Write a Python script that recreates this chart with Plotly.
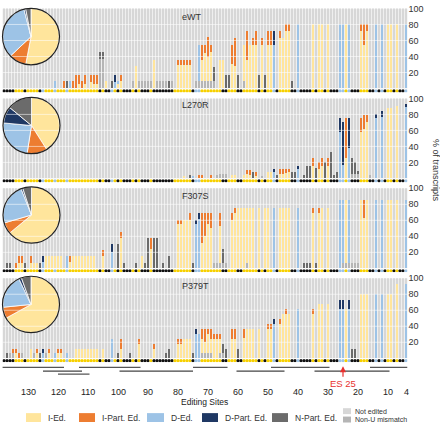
import plotly.graph_objects as go

W, H = 440, 423
def px(x): return x / W
def py(y): return 1 - y / H

FONT = "Liberation Sans, Arial, sans-serif"

# ---------------- data ----------------
sites = list(range(138, 3, -1))          # editing sites 138 .. 4
panels = ["eWT", "L270R", "F307S", "P379T"]
tick_sites = [130, 120, 110, 100, 90, 80, 70, 60, 50, 40, 30, 20, 10, 4]

# site type dots (K = not edited, Y = insertion, B = deletion), sites 138 -> 4
dot_types = ("K" "KKKYYYKYYY" "YKBYYYBYYY" "BYYYYYYYYY" "YKYKKBYKYK" "KKYKYKKKYK"
             "KKKKKKYYYY" "YYKBBYYYYY" "YYKKYYYKKY" "YYYYKYKYYB" "KYYYYKKBKK"
             "KKYKYYKYKK" "KBBYBKKKYY" "YKKBKBKYYK" "YKKB")

# eWT
eWT_I = {113: 5, 111: 5, 109: 8, 108: 6, 107: 5, 104: 9, 100: 5, 99: 9, 94: 28, 88: 36,
         80: 29, 79: 29, 78: 29, 77: 29, 76: 29, 72: 27, 71: 35, 70: 30, 69: 37, 66: 36, 65: 36,
         62: 30, 61: 28, 58: 45, 57: 36, 56: 54, 55: 54, 54: 54, 52: 54, 50: 54, 49: 54, 46: 63,
         45: 63, 44: 72, 43: 72, 35: 81, 33: 81, 32: 81, 30: 81, 24: 81, 19: 72, 18: 54, 17: 72,
         10: 81, 9: 81, 7: 81}
eWT_Ip = {118: 9, 115: 9, 114: 17, 113: 12, 112: 9, 111: 12, 109: 9, 108: 11, 107: 12, 99: 8,
          80: 7, 79: 7, 78: 7, 77: 7, 76: 7, 72: 18, 71: 10, 70: 25, 69: 8, 62: 24, 61: 35,
          57: 36, 55: 9, 54: 18, 52: 9, 50: 18, 49: 18, 46: 9, 44: 9, 43: 9, 19: 9, 18: 27, 17: 9}
eWT_D = {121: 9, 116: 9, 101: 8, 100: 4, 73: 45, 48: 54, 40: 81, 26: 81, 25: 81, 23: 81,
         14: 81, 12: 81, 4: 81}
eWT_Dp = {101: 9, 48: 18}
eWT_Np = {117: 9, 106: 8, 105: 8, 102: 9, 83: 9, 68: 18, 64: 17, 63: 17, 60: 17, 53: 17, 51: 17, 42: 9}
eWT_NU = {106: 37, 105: 37, 95: 9, 93: 9, 92: 9, 91: 9, 90: 9, 89: 9, 87: 9, 86: 9, 85: 9, 84: 9,
          82: 9, 74: 9, 73: 9, 72: 9, 71: 9, 70: 9, 69: 9, 68: 9, 58: 9}

# L270R
L270R_I = {78: 3, 62: 4, 61: 4, 58: 4, 57: 5, 56: 4, 54: 3, 50: 8, 49: 8, 46: 5, 45: 5, 44: 7,
           43: 8, 35: 16, 33: 12, 32: 16, 30: 15, 24: 25, 19: 58, 18: 62, 17: 70, 10: 88, 9: 88, 7: 91}
L270R_Ip = {73: 4, 72: 4, 69: 4, 57: 5, 56: 6, 54: 5, 46: 7, 45: 7, 44: 5, 43: 4, 35: 9, 33: 9,
            32: 9, 30: 10, 24: 50, 19: 17, 18: 17, 17: 9}
L270R_D = {75: 3, 48: 8, 40: 12, 26: 58, 25: 17, 23: 38, 14: 75, 12: 77, 4: 89}
L270R_Dp = {48: 4, 40: 4, 26: 17, 25: 53, 23: 37, 14: 5, 12: 7, 4: 4}
L270R_Np = {76: 4, 55: 8, 47: 4, 42: 8, 41: 8, 38: 4, 37: 16, 36: 16, 34: 13, 31: 20, 29: 33,
            28: 4, 27: 8, 22: 20, 21: 15, 20: 4}
L270R_NU = {67: 4, 66: 5, 65: 5, 64: 5, 52: 3, 22: 5, 21: 5, 20: 5, 16: 4}

# F307S
F307S_I = {133: 7, 132: 7, 129: 7, 128: 7, 127: 7, 124: 15, 123: 15, 122: 15, 121: 15, 120: 15,
           119: 15, 116: 8, 115: 15, 114: 15, 113: 15, 112: 15, 111: 15, 110: 15, 109: 15, 108: 15,
           105: 15, 99: 38, 92: 15, 89: 24, 80: 55, 79: 55, 78: 61, 77: 61, 76: 61, 72: 32, 71: 40,
           70: 55, 69: 50, 66: 46, 62: 61, 61: 69, 60: 76, 59: 76, 58: 76, 57: 69, 56: 76, 55: 76,
           53: 76, 51: 76, 50: 76, 46: 76, 45: 76, 44: 76, 43: 76, 35: 69, 33: 69, 32: 76, 30: 76,
           24: 78, 19: 85, 18: 63, 17: 85, 10: 85, 9: 85, 7: 85}
F307S_Ip = {134: 7, 133: 9, 132: 9, 129: 8, 116: 7, 105: 8, 99: 8, 89: 14, 80: 6, 79: 6, 76: 8,
            72: 37, 71: 29, 70: 14, 69: 19, 66: 16, 62: 8, 61: 7, 35: 7, 33: 7, 18: 22}
F307S_D = {125: 8, 117: 15, 102: 20, 74: 55, 73: 62, 48: 76, 40: 76, 26: 85, 25: 78, 23: 78,
           14: 85, 12: 85, 4: 85}
F307S_Dp = {125: 7, 102: 10, 74: 6, 73: 7}
F307S_Np = {137: 7, 136: 7, 131: 7, 126: 7, 100: 30, 98: 7, 94: 7, 91: 7, 90: 38, 88: 38, 87: 38,
            85: 7, 83: 15, 75: 7, 65: 17, 38: 7, 37: 7, 36: 7, 34: 7}
F307S_NU = {68: 7, 67: 7, 66: 7, 65: 7, 64: 7, 57: 7, 25: 7, 24: 7, 23: 7, 22: 7, 21: 7, 20: 7}

# P379T
P379T_I = {134: 6, 129: 12, 127: 6, 123: 6, 120: 6, 119: 6, 114: 12, 113: 12, 112: 12, 111: 12,
           110: 12, 109: 12, 108: 12, 107: 12, 105: 12, 99: 12, 93: 18, 88: 12, 80: 18, 79: 18,
           78: 24, 77: 24, 76: 24, 72: 18, 71: 14, 70: 24, 69: 18, 68: 24, 67: 24, 66: 18, 62: 24,
           61: 24, 58: 25, 57: 37, 56: 37, 55: 37, 53: 37, 50: 37, 49: 37, 46: 43, 45: 55, 44: 55,
           43: 55, 35: 55, 33: 68, 32: 68, 30: 68, 24: 61, 19: 80, 18: 80, 17: 80, 10: 80, 9: 80, 7: 93}
P379T_Ip = {135: 6, 134: 6, 133: 6, 127: 6, 123: 6, 120: 6, 119: 6, 99: 12, 93: 6, 88: 6, 80: 6,
            79: 6, 72: 12, 71: 16, 70: 6, 69: 12, 68: 6, 67: 6, 66: 6, 62: 13, 61: 13, 58: 12,
            50: 6, 49: 6, 46: 6, 44: 6, 35: 6}
P379T_D = {125: 6, 121: 6, 117: 6, 102: 24, 74: 30, 73: 30, 48: 43, 40: 61, 26: 61, 25: 61,
           23: 61, 14: 80, 12: 80, 4: 93}
P379T_Dp = {125: 6, 74: 6, 48: 6, 26: 12, 25: 12, 23: 12}
P379T_Np = {137: 6, 126: 6, 100: 6, 96: 6, 84: 6, 83: 12, 75: 6, 65: 12, 64: 12, 60: 12, 22: 12, 21: 12}
P379T_NU = {136: 6, 135: 6, 132: 6, 128: 6, 124: 6, 72: 6, 71: 6, 70: 6, 69: 6, 66: 6, 65: 6}

# pie shares: I-Ed, I-Part, D-Ed, D-Part, N-Part
pie_labels = ["I-Ed.", "I-Part. Ed.", "D-Ed.", "D-Part. Ed.", "N-Part. Ed."]
pie_eWT = [53, 10, 33, 1, 3]
pie_L270R = [41, 11.5, 24, 9.5, 14]
pie_F307S = [64, 6.5, 23.5, 1, 5]
pie_P379T = [67, 6.4, 19.6, 1.5, 5.5]

# guide-RNA coverage segments (site from, site to, row)
g_from = [138.6, 113, 125, 99.5, 120, 75, 60.5, 49, 34.5, 16]
g_to = [118, 92.5, 112, 75, 109.5, 63.5, 44.5, 29.5, 9.5, 3.5]
g_row = [0, 0, 1, 1, 2, 0, 1, 0, 1, 0]

panel_data = {
    "eWT": (eWT_NU, eWT_I, eWT_Ip, eWT_D, eWT_Dp, eWT_Np, pie_eWT),
    "L270R": (L270R_NU, L270R_I, L270R_Ip, L270R_D, L270R_Dp, L270R_Np, pie_L270R),
    "F307S": (F307S_NU, F307S_I, F307S_Ip, F307S_D, F307S_Dp, F307S_Np, pie_F307S),
    "P379T": (P379T_NU, P379T_I, P379T_Ip, P379T_D, P379T_Dp, P379T_Np, pie_P379T),
}

# ---------------- styles ----------------
C_I, C_IP, C_D, C_DP, C_NP = "#ffe59c", "#ed7d31", "#9dc3e6", "#1f3864", "#6b6b6b"
C_NOT, C_NU, C_BG = "#d7d7d7", "#b5b5b5", "#efefef"
series_colors = [C_NU, C_I, C_IP, C_D, C_DP, C_NP]
pie_colors = [C_I, C_IP, C_D, C_DP, C_NP]
dot_col = {"K": "#111111", "Y": "#f7d000", "B": "#9dc3e6"}

panel_top = [3.5, 94.5, 185.5, 276.5]
label_y = [12, 101, 193, 284]
pie_c = [(31, 32), (31.5, 122), (31.5, 212.5), (31, 303)]
pie_r = 28.5
scale = 0.81
ymin = -5
X0, X1 = 2.5, 407.5   # 135 columns x 3 px

fig = go.Figure()
layout = {}
shapes = []
annotations = []

for k, name in enumerate(panels):
    ax = "" if k == 0 else str(k + 1)
    top = panel_top[k]
    bottom = top + (100 - ymin) * scale
    layout["xaxis" + ax] = dict(domain=[px(X0), px(X1)], range=[138.5, 3.5], visible=False,
                                anchor="y" + ax, fixedrange=True)
    layout["yaxis" + ax] = dict(domain=[py(bottom), py(top)], range=[ymin, 100], side="right",
                                tickvals=[20, 40, 60, 80, 100], showgrid=False, zeroline=False,
                                showline=False, ticks="", anchor="x" + ax,
                                tickfont=dict(size=9, color="#333", family=FONT), fixedrange=True)
    NU, I, Ip, D, Dp, Np, pie_vals = panel_data[name]
    total = [0] * len(sites)
    for d, col in zip([NU, I, Ip, D, Dp, Np], series_colors):
        vals = [d.get(s, 0) for s in sites]
        total = [a + b for a, b in zip(total, vals)]
        fig.add_trace(go.Bar(x=sites, y=vals, marker=dict(color=col, line=dict(width=0)),
                             xaxis="x" + ax, yaxis="y" + ax, showlegend=False, hoverinfo="skip"))
    fig.add_trace(go.Bar(x=sites, y=[100 - t for t in total], marker=dict(color=C_NOT, line=dict(width=0)),
                         xaxis="x" + ax, yaxis="y" + ax, showlegend=False, hoverinfo="skip"))
    fig.add_trace(go.Scatter(x=sites, y=[-3] * len(sites), mode="markers",
                             marker=dict(color=[dot_col[c] for c in dot_types], size=3.2, symbol="circle",
                                         line=dict(width=0)),
                             xaxis="x" + ax, yaxis="y" + ax, showlegend=False, hoverinfo="skip"))
    shapes.append(dict(type="rect", xref="x" + ax + " domain", yref="y" + ax, x0=0, x1=1, y0=0, y1=100,
                       fillcolor=C_BG, line=dict(width=0), layer="below"))
    for gv in [20, 40, 60, 80]:
        shapes.append(dict(type="line", xref="x" + ax + " domain", yref="y" + ax, x0=0, x1=1, y0=gv, y1=gv,
                           line=dict(color="rgba(255,255,255,0.55)", width=1), layer="above"))
    cx, cy = pie_c[k]
    fig.add_trace(go.Pie(values=pie_vals, labels=pie_labels, sort=False, direction="clockwise", rotation=0,
                         marker=dict(colors=pie_colors, line=dict(color="white", width=0.8)),
                         textinfo="none", hoverinfo="skip", showlegend=False,
                         domain=dict(x=[px(cx - pie_r), px(cx + pie_r)], y=[py(cy + pie_r), py(cy - pie_r)])))
    shapes.append(dict(type="circle", xref="paper", yref="paper", x0=px(cx - pie_r), x1=px(cx + pie_r),
                       y0=py(cy + pie_r), y1=py(cy - pie_r), line=dict(color="#222", width=1.2), layer="above"))
    annotations.append(dict(text=name, x=px(180), y=py(label_y[k]), xref="paper", yref="paper",
                            xanchor="left", yanchor="middle", showarrow=False,
                            font=dict(size=9, color="#333", family=FONT)))

row_y = [366.7, 370.5, 373.5]
for a, b, r in zip(g_from, g_to, g_row):
    shapes.append(dict(type="line", xref="x4", yref="paper", x0=a, x1=b, y0=py(row_y[r]), y1=py(row_y[r]),
                       line=dict(color="#555" if r != 1 else "#444", width=1.3)))

for s in tick_sites:
    annotations.append(dict(text=str(s), x=s, xref="x4", y=py(392), yref="paper", showarrow=False,
                            xanchor="center", yanchor="middle", font=dict(size=9, color="#222", family=FONT)))
annotations.append(dict(text="Editing Sites", x=px(204), y=py(402), xref="paper", yref="paper",
                        xanchor="center", yanchor="middle",
                        showarrow=False, font=dict(size=8.5, color="#222", family=FONT)))
annotations.append(dict(text="% of transcripts", x=px(436), y=py(167), xref="paper", yref="paper",
                        xanchor="center", yanchor="middle",
                        showarrow=False, textangle=90, font=dict(size=9, color="#333", family=FONT)))
annotations.append(dict(text="ES 25", x=25, xref="x4", y=py(365.5), yref="paper", ax=0, ay=17.5,
                        showarrow=True, arrowhead=2, arrowsize=1, arrowwidth=1.2, arrowcolor="#e8312f",
                        font=dict(size=9.5, color="#e8312f", family=FONT)))

leg = [(26, 41, "I-Ed.", C_I), (79, 95, "I-Part. Ed.", C_IP), (147, 164, "D-Ed.", C_D),
       (202, 218, "D-Part. Ed.", C_DP), (272, 288, "N-Part. Ed.", C_NP)]
for x0, x1, t, c in leg:
    shapes.append(dict(type="rect", xref="paper", yref="paper", x0=px(x0), x1=px(x1), y0=py(422), y1=py(413),
                       fillcolor=c, line=dict(width=0)))
    annotations.append(dict(text=t, x=px(x1 + 5), y=py(417.5), xref="paper", yref="paper", xanchor="left",
                            yanchor="middle", showarrow=False, font=dict(size=8.5, color="#333", family=FONT)))
for y0, y1, t, c in [(408, 414, "Not edited", C_NOT), (416.5, 422.5, "Non-U mismatch", C_NU)]:
    shapes.append(dict(type="rect", xref="paper", yref="paper", x0=px(343), x1=px(351), y0=py(y1), y1=py(y0),
                       fillcolor=c, line=dict(width=0)))
    annotations.append(dict(text=t, x=px(353), y=py((y0 + y1) / 2), xref="paper", yref="paper", xanchor="left",
                            yanchor="middle", showarrow=False, font=dict(size=7, color="#333", family=FONT)))

fig.update_layout(width=W, height=H, margin=dict(l=0, r=0, t=0, b=0), paper_bgcolor="white",
                  plot_bgcolor="white", barmode="stack", bargap=1 / 3, shapes=shapes, annotations=annotations,
                  font=dict(family=FONT), showlegend=False, **layout)
fig.write_html("out.html")
